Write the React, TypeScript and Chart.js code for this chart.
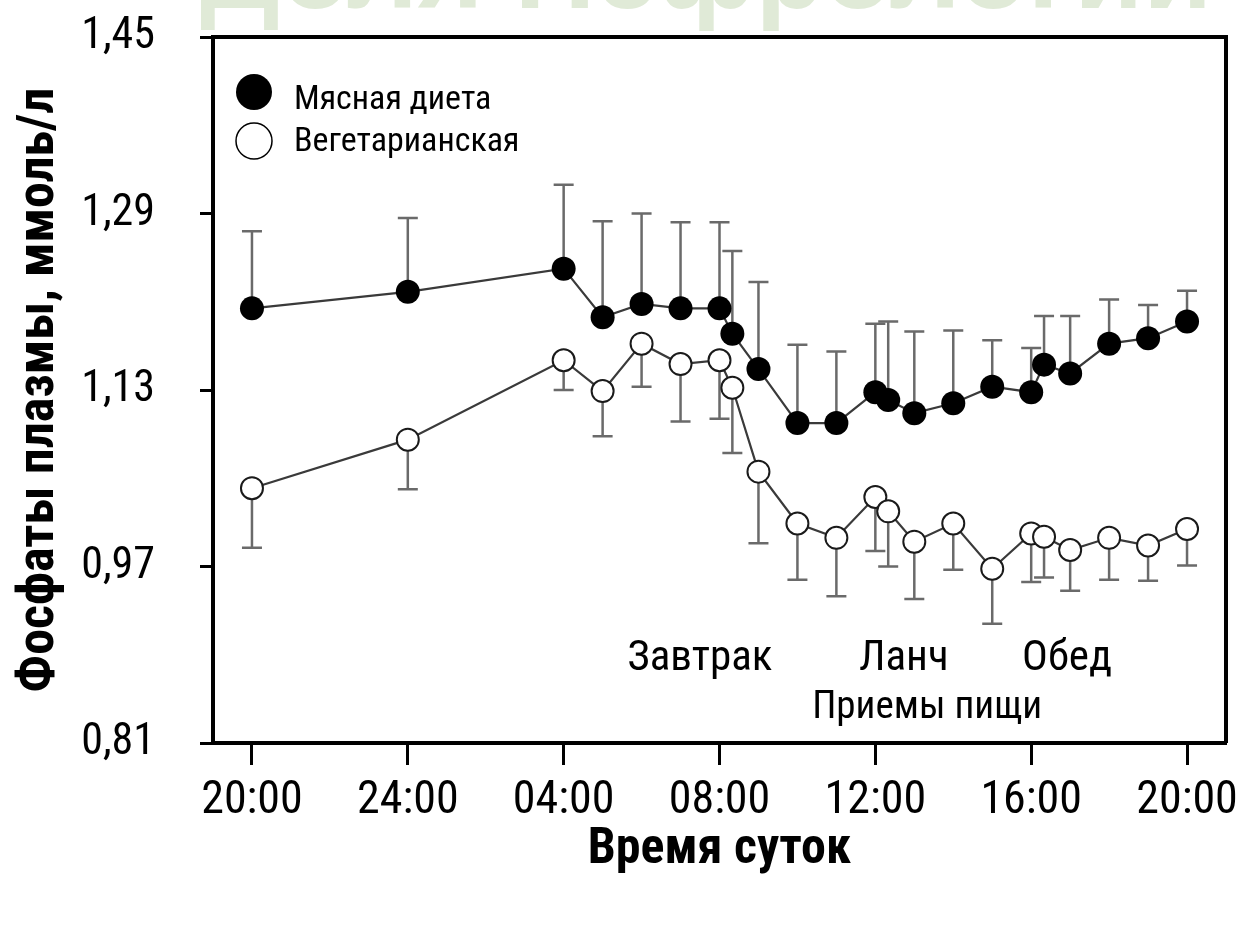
import React, { useEffect, useRef } from 'react';
import { Chart, registerables } from 'chart.js';

Chart.register(...registerables);

// ---- data (hours counted from 20:00 of the first day) ----
const hours = [0, 4, 8, 9, 10, 11, 12, 12.33, 13, 14, 15, 16, 16.33, 17, 18, 19, 20, 20.33, 21, 22, 23, 24];
const meatValues = [1.204, 1.219, 1.240, 1.196, 1.208, 1.204, 1.204, 1.181, 1.149, 1.100, 1.100, 1.128, 1.121, 1.109, 1.118, 1.133, 1.128, 1.153, 1.145, 1.172, 1.177, 1.192];
const meatErrors = [0.070, 0.067, 0.076, 0.087, 0.082, 0.078, 0.078, 0.075, 0.079, 0.071, 0.065, 0.062, 0.071, 0.074, 0.066, 0.042, 0.040, 0.044, 0.052, 0.040, 0.030, 0.028];
const vegValues = [1.041, 1.085, 1.157, 1.129, 1.172, 1.1535, 1.157, 1.132, 1.056, 1.009, 0.996, 1.033, 1.020, 0.9925, 1.009, 0.968, 1.000, 0.997, 0.985, 0.996, 0.989, 1.004];
const vegErrors = [0.054, 0.045, 0.027, 0.041, 0.039, 0.052, 0.053, 0.059, 0.065, 0.051, 0.053, 0.049, 0.050, 0.052, 0.042, 0.050, 0.044, 0.037, 0.037, 0.038, 0.032, 0.033];

const xTickHours = [0, 4, 8, 12, 16, 20, 24];
const xTickLabels = ['20:00', '24:00', '04:00', '08:00', '12:00', '16:00', '20:00'];
const yTickValues = [0.81, 0.97, 1.13, 1.29, 1.45];
const yTickLabels = ['0,81', '0,97', '1,13', '1,29', '1,45'];

const seriesNames = ['Мясная диета', 'Вегетарианская'];
const mealLabels = ['Завтрак', 'Ланч', 'Обед'];
const mealsTitle = 'Приемы пищи';
const xTitle = 'Время суток';
const yTitle = 'Фосфаты плазмы, ммоль/л';
const watermark = 'Доля Нефрологии';

// ---- layout / style (not data) ----
const NARROW = "'Roboto Condensed', 'Liberation Sans Narrow', 'DejaVu Sans Condensed', sans-serif";
const mealLabelPos = [
  { h: 11.5, v: 0.876 },
  { h: 16.73, v: 0.876 },
  { h: 20.92, v: 0.876 },
];
const mealsTitlePos = { h: 17.33, v: 0.833 };

const errorBarsPlugin = {
  id: 'errorBars',
  beforeDatasetsDraw(chart: any) {
    const { ctx, scales } = chart;
    const x = scales.x;
    const y = scales.y;
    ctx.save();
    const a = chart.chartArea;
    ctx.strokeStyle = '#000';
    ctx.lineWidth = 4;
    ctx.beginPath();
    ctx.moveTo(a.left, a.top);
    ctx.lineTo(a.right, a.top);
    ctx.lineTo(a.right, a.bottom);
    ctx.stroke();

    ctx.strokeStyle = '#6a6a6a';
    ctx.lineWidth = 2.5;
    const draw = (vals: number[], errs: number[], dir: number) => {
      vals.forEach((v, i) => {
        const px = x.getPixelForValue(hours[i]);
        const p0 = y.getPixelForValue(v);
        const p1 = y.getPixelForValue(v + dir * errs[i]);
        ctx.beginPath();
        ctx.moveTo(px, p0);
        ctx.lineTo(px, p1);
        ctx.moveTo(px - 10, p1);
        ctx.lineTo(px + 10, p1);
        ctx.stroke();
      });
    };
    draw(vegValues, vegErrors, -1);
    draw(meatValues, meatErrors, 1);
    ctx.restore();
  },
};

const decorPlugin = {
  id: 'decor',
  beforeDraw(chart: any) {
    const { ctx } = chart;
    ctx.save();
    ctx.fillStyle = '#e0eAd7';
    ctx.font = "bold 112px 'Liberation Sans', sans-serif";
    ctx.textBaseline = 'alphabetic';
    ctx.textAlign = 'left';
    ctx.fillText(watermark, 200, 8);
    ctx.restore();
  },
  afterDraw(chart: any) {
    const { ctx, scales } = chart;
    const x = scales.x;
    const y = scales.y;
    ctx.save();
    ctx.fillStyle = '#000';
    ctx.textAlign = 'center';
    ctx.textBaseline = 'alphabetic';
    ctx.font = `43px ${NARROW}`;
    mealLabels.forEach((t, i) => {
      ctx.fillText(t, x.getPixelForValue(mealLabelPos[i].h), y.getPixelForValue(mealLabelPos[i].v));
    });
    ctx.font = `39px ${NARROW}`;
    ctx.fillText(mealsTitle, x.getPixelForValue(mealsTitlePos.h), y.getPixelForValue(mealsTitlePos.v));

    // legend
    const a = chart.chartArea;
    const lx = a.left + 41;
    const rows = [a.top + 55, a.top + 104];
    ctx.beginPath();
    ctx.arc(lx, rows[0], 18, 0, Math.PI * 2);
    ctx.fillStyle = '#000';
    ctx.fill();
    ctx.beginPath();
    ctx.arc(lx, rows[1], 18, 0, Math.PI * 2);
    ctx.fillStyle = '#fff';
    ctx.fill();
    ctx.lineWidth = 1.5;
    ctx.strokeStyle = '#000';
    ctx.stroke();
    ctx.fillStyle = '#000';
    ctx.textAlign = 'left';
    ctx.font = `34px ${NARROW}`;
    ctx.fillText(seriesNames[0], lx + 40, rows[0] + 17);
    ctx.fillText(seriesNames[1], lx + 40, rows[1] + 10);
    ctx.restore();
  },
};

export default function App() {
  const ref = useRef<HTMLCanvasElement | null>(null);

  useEffect(() => {
    if (!ref.current) return;
    const chart = new Chart(ref.current, {
      type: 'line',
      data: {
        datasets: [
          {
            label: seriesNames[0],
            data: hours.map((h, i) => ({ x: h, y: meatValues[i] })),
            borderColor: '#3a3a3a',
            borderWidth: 2.2,
            pointRadius: 12,
            pointBackgroundColor: '#000',
            pointBorderColor: '#000',
            pointBorderWidth: 0,
            tension: 0,
          },
          {
            label: seriesNames[1],
            data: hours.map((h, i) => ({ x: h, y: vegValues[i] })),
            borderColor: '#3a3a3a',
            borderWidth: 2.2,
            pointRadius: 11,
            pointBackgroundColor: '#fff',
            pointBorderColor: '#1a1a1a',
            pointBorderWidth: 2,
            tension: 0,
          },
        ],
      },
      options: {
        responsive: false,
        animation: false,
        devicePixelRatio: 1,
        layout: { padding: { top: 37, right: 24, left: 0, bottom: 0 } },
        plugins: {
          legend: { display: false },
          tooltip: { enabled: false },
        },
        scales: {
          x: {
            type: 'linear',
            min: -1,
            max: 25,
            afterBuildTicks: (s: any) => {
              s.ticks = xTickHours.map((v) => ({ value: v }));
            },
            afterFit: (s: any) => {
              s.height = 183;
              s.paddingLeft = 0;
              s.paddingRight = 0;
            },
            grid: { drawOnChartArea: false, drawTicks: true, tickLength: 22, tickWidth: 3, tickColor: '#000' },
            border: { display: true, color: '#000', width: 4 },
            ticks: {
              font: { family: NARROW, size: 46 },
              color: '#000',
              padding: 9,
              maxRotation: 0,
              autoSkip: false,
              callback: (_v: any, i: number) => xTickLabels[i],
            },
            title: {
              display: true,
              text: xTitle,
              color: '#000',
              font: { family: NARROW, size: 50, weight: 'bold' },
              padding: { top: 0, bottom: 46 },
            },
          },
          y: {
            type: 'linear',
            min: 0.81,
            max: 1.45,
            afterBuildTicks: (s: any) => {
              s.ticks = yTickValues.map((v) => ({ value: v }));
            },
            afterFit: (s: any) => {
              s.width = 213;
              s.paddingTop = 0;
              s.paddingBottom = 0;
            },
            grid: { drawOnChartArea: false, drawTicks: true, tickLength: 13, tickWidth: 3, tickColor: '#000' },
            border: { display: true, color: '#000', width: 4 },
            ticks: {
              font: { family: NARROW, size: 44 },
              color: '#000',
              padding: 45,
              autoSkip: false,
              callback: (_v: any, i: number) => yTickLabels[i],
            },
            title: {
              display: true,
              text: yTitle,
              color: '#000',
              font: { family: NARROW, size: 52, weight: 'bold' },
              padding: { top: 9, bottom: 0 },
            },
          },
        },
      },
      plugins: [errorBarsPlugin, decorPlugin],
    } as any);
    return () => chart.destroy();
  }, []);

  return (
    <div style={{ position: 'absolute', left: 0, top: 0, width: 1250, height: 926, background: '#fff' }}>
      <canvas ref={ref} width={1250} height={926} style={{ display: 'block' }} />
    </div>
  );
}
